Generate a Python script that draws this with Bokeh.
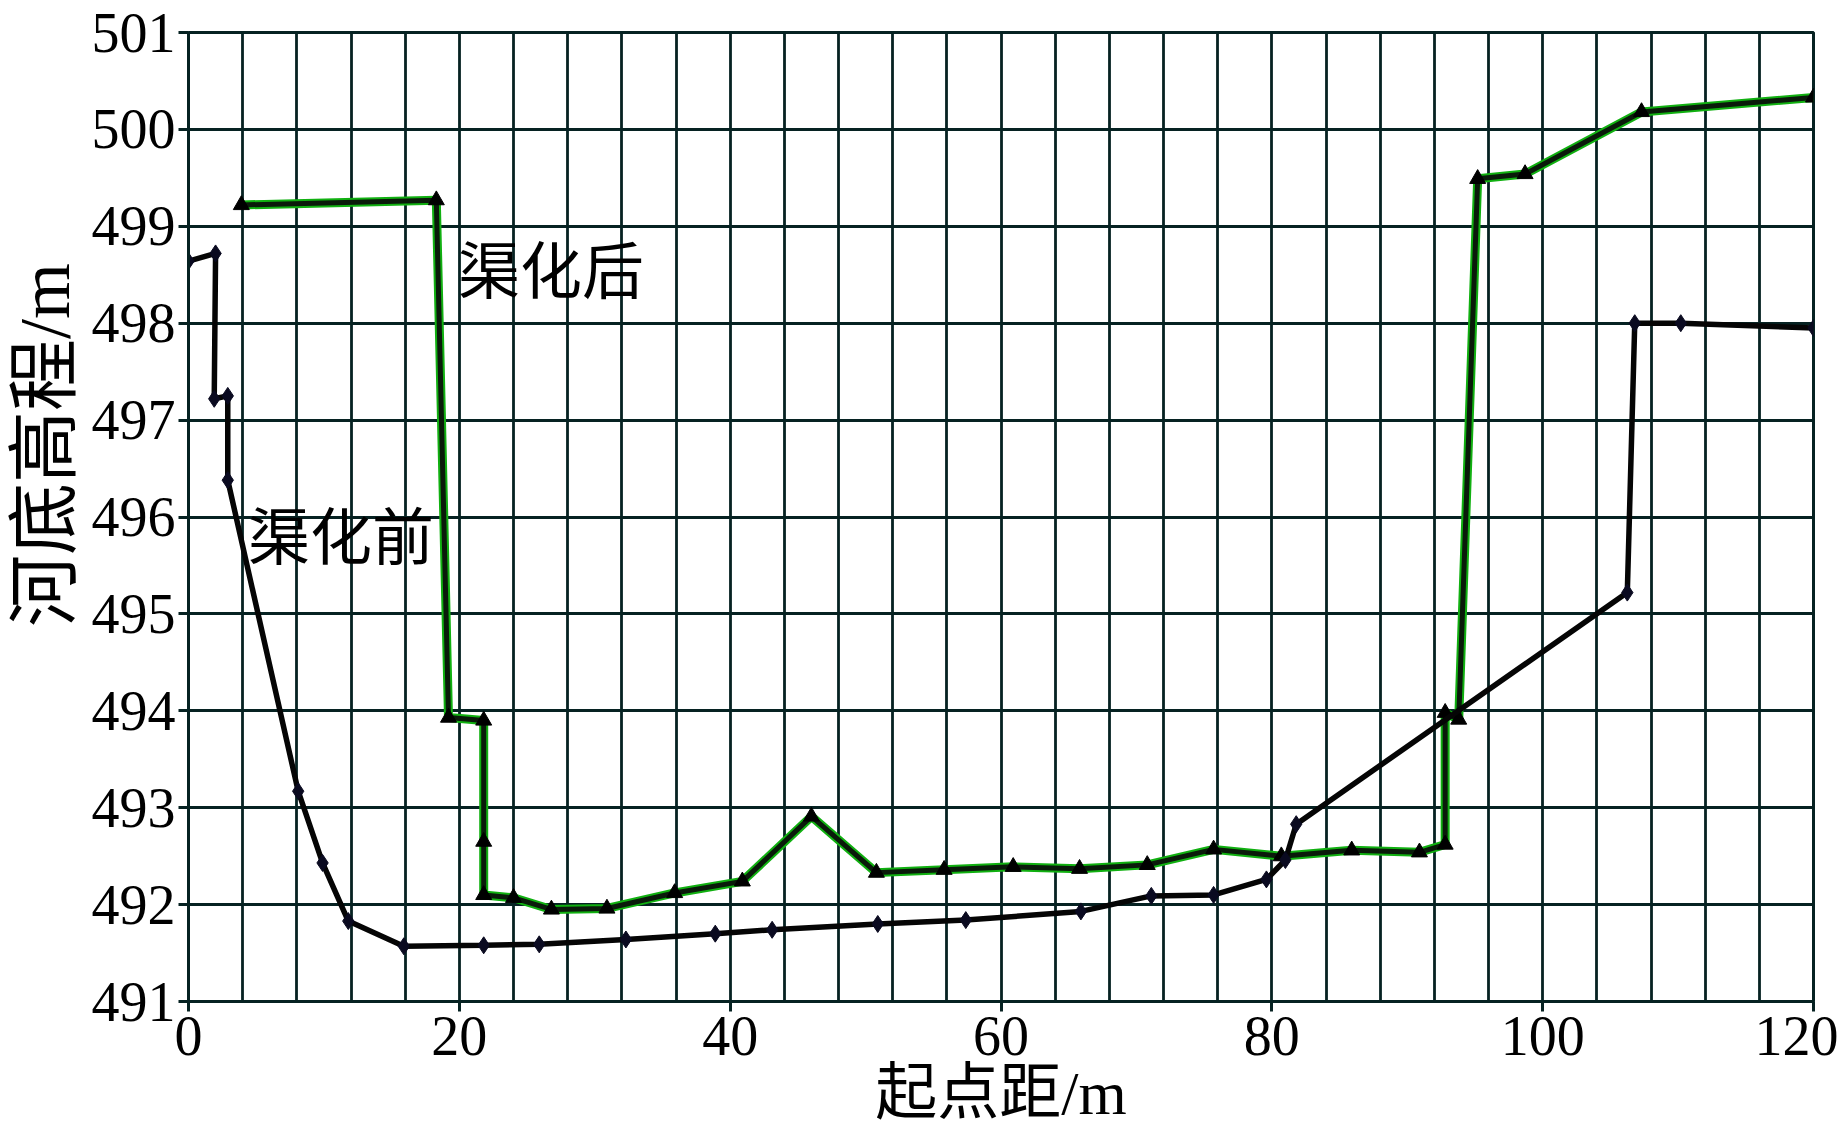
from bokeh.plotting import figure
from bokeh.models import Range1d, FixedTicker, Label
from bokeh.embed import file_html
from bokeh.resources import INLINE

# ---- data ----
before_x = [0, 2.0, 1.9, 2.9, 2.9, 8.1, 9.9, 11.8, 15.9, 21.8, 25.9, 32.3, 38.9, 43.1,
            50.9, 57.4, 65.9, 71.1, 75.7, 79.6, 81.0, 81.8, 106.25, 106.8, 110.2, 120]
before_y = [498.64, 498.72, 497.22, 497.25, 496.38, 493.17, 492.43, 491.83, 491.57, 491.58,
            491.59, 491.64, 491.70, 491.74, 491.80, 491.84, 491.93, 492.09, 492.10, 492.26,
            492.46, 492.83, 495.22, 498.0, 498.0, 497.95]

after_x = [3.9, 18.3, 19.2, 21.8, 21.8, 21.8, 24.0, 26.8, 30.9, 35.9, 40.9, 46.0, 50.8,
           55.8, 60.9, 65.8, 70.8, 75.7, 80.7, 85.9, 90.9, 92.8, 92.8, 93.8, 95.2, 98.7,
           107.3, 120]
after_y = [499.22, 499.27, 493.93, 493.90, 492.65, 492.10, 492.07, 491.95, 491.96, 492.12,
           492.24, 492.91, 492.33, 492.36, 492.39, 492.37, 492.41, 492.57, 492.50, 492.56,
           492.54, 492.62, 493.98, 493.91, 499.49, 499.54, 500.18, 500.33]

x_ticks = [0, 20, 40, 60, 80, 100, 120]
y_ticks = [491, 492, 493, 494, 495, 496, 497, 498, 499, 500, 501]
x_grid = [0, 4, 8, 12, 16, 20, 24, 28, 32, 36, 40, 44, 48, 52, 56, 60, 64, 68, 72, 76,
          80, 84, 88, 92, 96, 100, 104, 108, 112, 116, 120]

x_title = "起点距/m"
y_title = "河底高程/m"
label_after = "渠化后"
label_before = "渠化前"

SERIF = "Liberation Serif, Noto Sans CJK SC"
CJK = "Noto Sans CJK SC"
GRID = "#062222"

p = figure(frame_width=1625, frame_height=969,
           x_range=Range1d(0, 120), y_range=Range1d(491, 501),
           output_backend="svg", toolbar_location=None,
           min_border_left=188, min_border_right=25,
           min_border_top=32, min_border_bottom=100)
p.background_fill_color = "white"
p.border_fill_color = "white"
p.outline_line_color = GRID
p.outline_line_width = 3

p.xaxis.ticker = FixedTicker(ticks=x_ticks)
p.yaxis.ticker = FixedTicker(ticks=y_ticks)
p.xgrid.ticker = FixedTicker(ticks=x_grid)
p.ygrid.ticker = FixedTicker(ticks=y_ticks)
for g in (p.xgrid, p.ygrid):
    g.grid_line_color = GRID
    g.grid_line_width = 2.8
    g.grid_line_alpha = 1.0

for ax in (p.xaxis, p.yaxis):
    ax.axis_line_color = GRID
    ax.axis_line_width = 3
    ax.major_tick_line_color = GRID
    ax.major_tick_line_width = 3
    ax.major_tick_out = 10
    ax.major_tick_in = 0
    ax.minor_tick_out = 0
    ax.minor_tick_in = 0
    ax.major_label_text_font = "Liberation Serif"
    ax.major_label_text_font_size = "56px"
    ax.major_label_text_color = "black"
    ax.axis_label_text_font = SERIF
    ax.axis_label_text_font_style = "normal"
    ax.axis_label_text_color = "black"
p.yaxis.major_label_standoff = 3
p.xaxis.major_label_standoff = 5

p.yaxis.axis_label = "\u2003\u2003" + y_title
p.yaxis.axis_label_text_font_size = "72px"
p.yaxis.axis_label_standoff = 4
p.xaxis.axis_label = x_title
p.xaxis.axis_label_text_font_size = "62px"
p.xaxis.axis_label_standoff = 1

# 渠化后 line (green edged)
p.line(after_x, after_y, line_color="#11b011", line_width=9)
p.line(after_x, after_y, line_color="#0a1a0a", line_width=5)
p.scatter(after_x, after_y, marker="triangle", size=16, fill_color="black",
          line_color="black")

# 渠化前 line
p.line(before_x, before_y, line_color="#050505", line_width=5.5)
p.scatter(before_x, before_y, marker="diamond", size=17, fill_color="#0a0a20",
          line_color="#0a0a20")

p.add_layout(Label(x=19.9, y=498.58, text=label_after, text_font=CJK,
                   text_font_size="62px", text_baseline="middle", text_align="left",
                   text_color="black"))
p.add_layout(Label(x=4.4, y=495.84, text=label_before, text_font=CJK,
                   text_font_size="62px", text_baseline="middle", text_align="left",
                   text_color="black"))

open("out.html", "w").write(file_html(p, INLINE))
